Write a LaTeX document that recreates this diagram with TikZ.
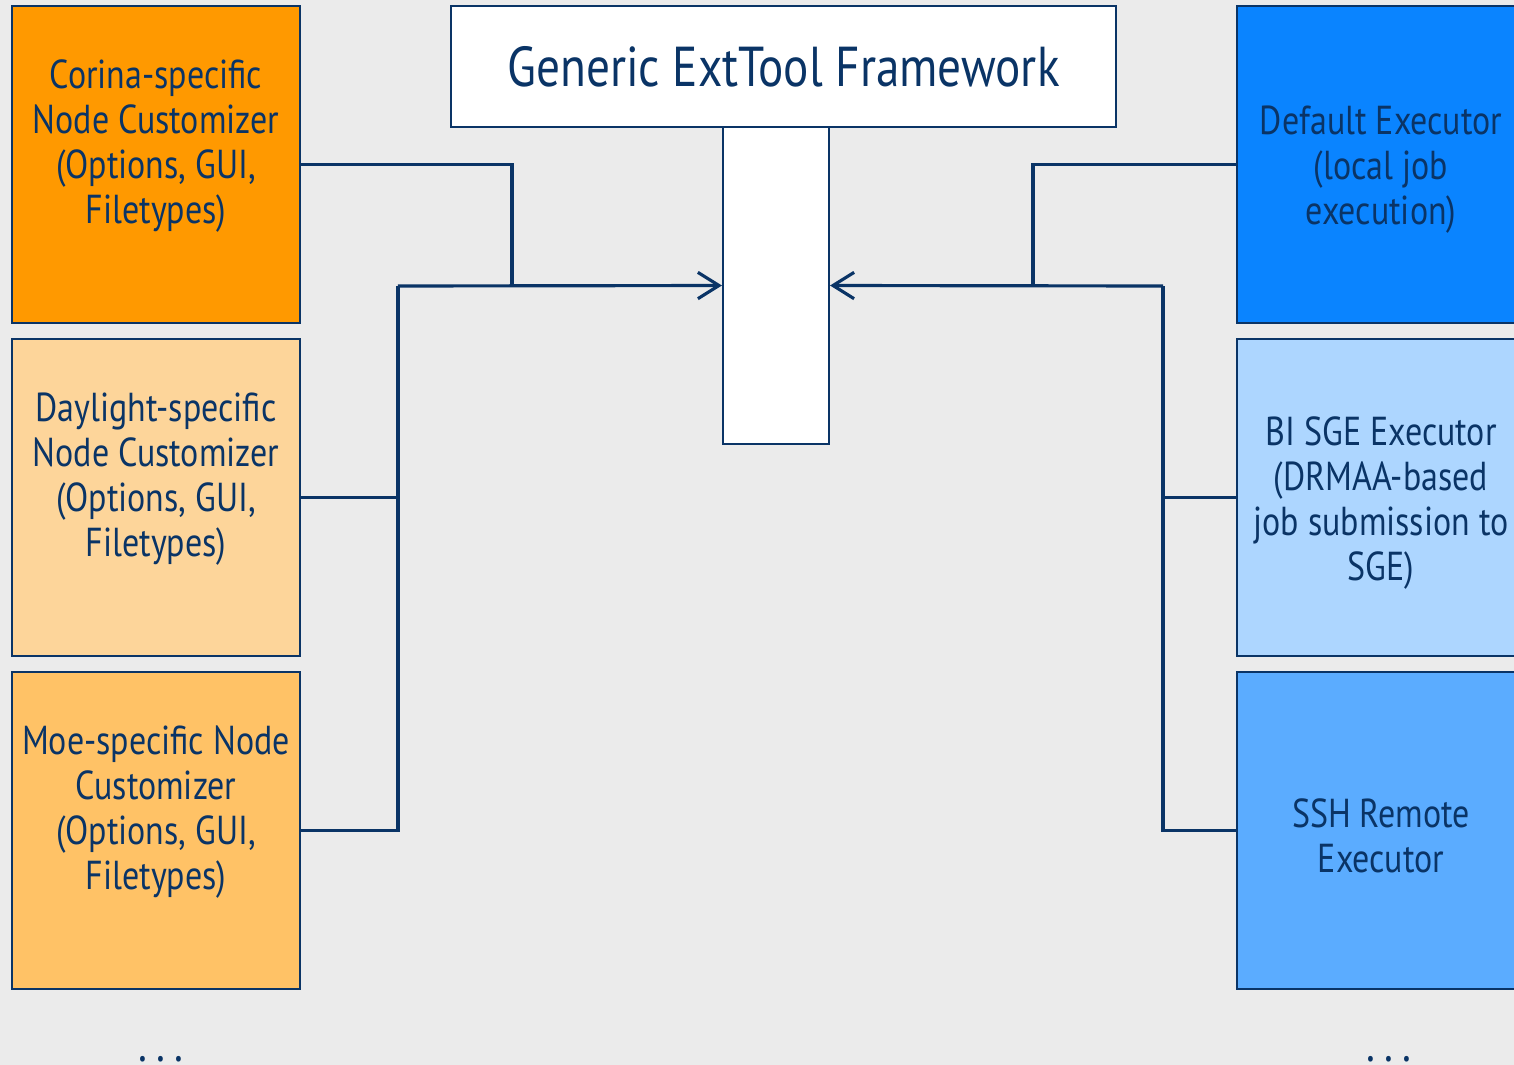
\documentclass[tikz,border=0pt]{standalone}
\usepackage{fontspec}
\setmainfont{PT Sans}[FakeStretch=0.84]
\usetikzlibrary{arrows.meta}

\definecolor{navy}{HTML}{0A3466}
\definecolor{paper}{HTML}{EBEBEB}
\definecolor{orangeA}{HTML}{FF9900}
\definecolor{orangeB}{HTML}{FDD59A}
\definecolor{orangeC}{HTML}{FFC266}
\definecolor{blueA}{HTML}{0A84FF}
\definecolor{blueB}{HTML}{ADD6FF}
\definecolor{blueC}{HTML}{5BACFF}

\begin{document}
\begin{tikzpicture}[>={Straight Barb[length=6pt,width=7.5pt]}]

\def\boxw{2.88cm}
\def\boxh{3.17cm}

\tikzstyle{custBox}=[rectangle,draw=navy,line width=0.6pt,minimum width=\boxw,minimum height=\boxh,inner sep=0pt,text=navy,align=center,font=\fontsize{11.5}{12.8}\selectfont]
\tikzstyle{execBox}=[custBox]
\tikzstyle{link}=[draw=navy,line width=0.9pt]
\tikzstyle{more}=[anchor=south,inner sep=0pt,text=navy,font=\fontsize{14}{16}\selectfont]

%Page
\clip (0,0) rectangle (15.14,-10.65);
\fill[paper] (0,0) rectangle (15.14,-10.65);

%Framework
\node[rectangle,draw=navy,line width=0.6pt,fill=white,minimum width=6.65cm,minimum height=1.21cm,text=navy,font=\fontsize{16}{18}\selectfont] (frame) at (7.835,-0.665) {Generic ExtTool Framework};
\node[rectangle,draw=navy,line width=0.6pt,fill=white,minimum width=1.06cm,minimum height=\boxh] (hook) at (7.76,-2.855) {};

%Customizers
\node[custBox,fill=orangeA] (corina) at (1.56,-1.645) {Corina-specific\\Node Customizer\\(Options, GUI,\\Filetypes)\\ \mbox{}};
\node[custBox,fill=orangeB] (daylight) at (1.56,-4.975) {Daylight-specific\\Node Customizer\\(Options, GUI,\\Filetypes)\\ \mbox{}};
\node[custBox,fill=orangeC] (moe) at (1.56,-8.305) {Moe-specific Node\\Customizer\\(Options, GUI,\\Filetypes)\\ \mbox{}};

%Executors
\node[execBox,fill=blueA] (local) at (13.81,-1.645) {\\[-0.6mm]Default Executor\\(local job\\execution)};
\node[execBox,fill=blueB] (sge) at (13.81,-4.975) {\\[-0.6mm]BI SGE Executor\\(DRMAA-based\\job submission to\\SGE)};
\node[execBox,fill=blueC] (ssh) at (13.81,-8.305) {\\[-0.6mm]SSH Remote\\Executor};

\coordinate (leftBus) at (3.98,-2.86);
\coordinate (leftTop) at (5.12,-2.86);
\coordinate (rightBus) at (11.63,-2.86);
\coordinate (rightTop) at (10.33,-2.86);

%left side
\draw[link] (corina.east) -| (leftTop);
\draw[link] (daylight.east) -| (leftBus);
\draw[link] (moe.east) -| (leftBus);
\draw[link,->] (leftBus) -- (hook.west);

%right side
\draw[link] (local.west) -| (rightTop);
\draw[link] (sge.west) -| (rightBus);
\draw[link] (ssh.west) -| (rightBus);
\draw[link,->] (rightBus) -- (hook.east);

\node[more] (moreCust) at (1.61,-10.63) {.\hspace{0.9mm}.\hspace{0.9mm}.};
\node[more] (moreExec) at (13.89,-10.63) {.\hspace{0.9mm}.\hspace{0.9mm}.};

\end{tikzpicture}
\end{document}
